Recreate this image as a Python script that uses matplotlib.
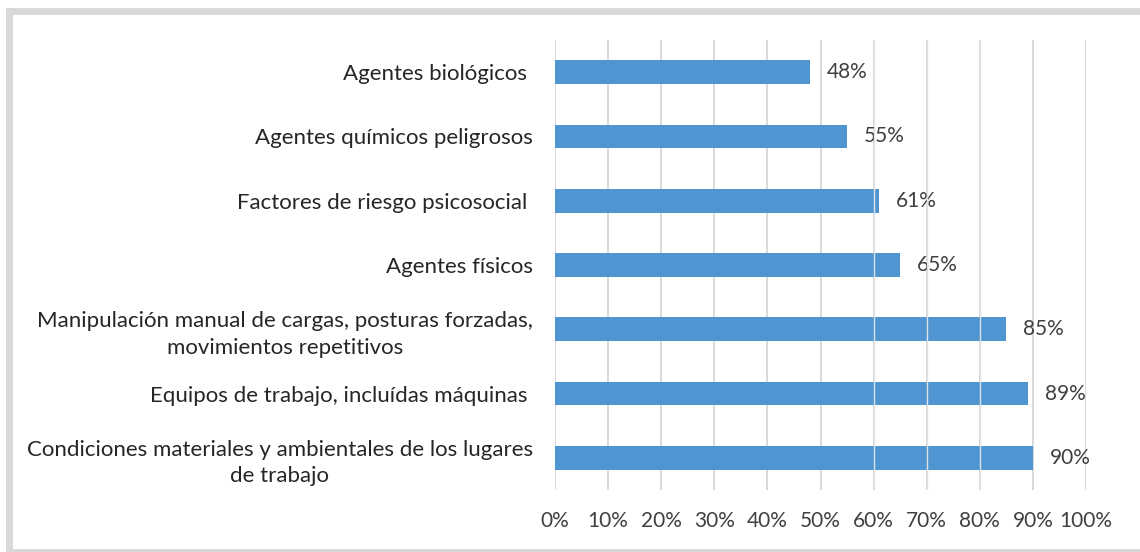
import matplotlib.pyplot as plt
from matplotlib.patches import Rectangle

# categories, top to bottom as in the picture
categorias = [
    "Agentes biológicos ",
    "Agentes químicos peligrosos",
    "Factores de riesgo psicosocial ",
    "Agentes físicos",
    "Manipulación manual de cargas, posturas forzadas,\nmovimientos repetitivos",
    "Equipos de trabajo, incluídas máquinas ",
    "Condiciones materiales y ambientales de los lugares\nde trabajo",
]
porcentajes = [48, 55, 61, 65, 85, 89, 90]
ticks = [0, 10, 20, 30, 40, 50, 60, 70, 80, 90, 100]
tick_labels = ["0%", "10%", "20%", "30%", "40%", "50%", "60%", "70%", "80%", "90%", "100%"]

plt.rcParams['font.family'] = ['Lato', 'DejaVu Sans']

fig = plt.figure(figsize=(11.4, 5.52), dpi=100)
ax = fig.add_axes([555 / 1140, 1 - 490 / 552, 531 / 1140, 450 / 552])

pos = list(range(len(categorias)))
ax.barh(pos, porcentajes, height=0.37, color="#4F95D1", zorder=2)

# value labels
for p, v in zip(pos, porcentajes):
    ax.text(v + 3.2, p, str(v) + "%", va="center", ha="left",
            fontsize=15, color="#404040")

ax.set_xlim(0, 100)
ax.set_ylim(len(categorias) - 0.5, -0.5)
ax.set_xticks(ticks)
ax.set_xticklabels(tick_labels, fontsize=15, color="#404040")
ax.set_yticks(pos)
ax.set_yticklabels(categorias, fontsize=16, color="#262626", multialignment="center")
for lbl in ax.get_yticklabels():
    lbl.set_linespacing(1.4)
ax.tick_params(axis="y", length=0, pad=16)
ax.tick_params(axis="x", length=0, pad=15)

# grid behind bars, a few faint ones showing through
for t in ticks:
    ax.axvline(t, color="#d9d9d9", lw=1.4, zorder=1)
for t in [60, 70, 80]:
    ax.axvline(t, color="#dfe3e8", lw=1.0, zorder=3)

for s in ax.spines.values():
    s.set_visible(False)

# outer chart border
fig.patches.append(Rectangle((8.5 / 1140, 1 - 551.5 / 552), (1143 - 8.5) / 1140, (551.5 - 10.5) / 552,
                             transform=fig.transFigure, fill=False,
                             edgecolor="#d9d9d9", lw=5))

plt.savefig("out.png", dpi=100)
